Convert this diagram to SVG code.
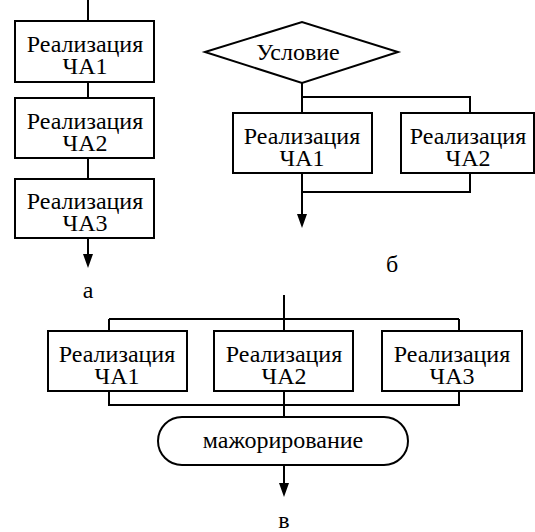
<svg xmlns="http://www.w3.org/2000/svg" width="535" height="532" viewBox="0 0 535 532">
<defs>
<style>
.b{fill:#fff;stroke:#000;stroke-width:2}
.c{fill:none;stroke:#000;stroke-width:2}
.h{fill:#000;stroke:none}
.t{font-family:'Liberation Serif','Times New Roman',serif;font-size:24px;fill:#000;text-anchor:middle}
</style>
</defs>
<rect width="535" height="532" fill="#fff"/>
<g id="connectors">
<path class="c" d="M88,0 V21 M88,82 V98 M88,158 V179 M88,238 V254"/>
<path class="c" d="M302,83 V97 H470 V113 M302,97 V113 M302,173 V192 H470 V173 M302,192 V214"/>
<path class="c" d="M284,295 V319 M109,319 H459 M109,319 V331 M284,319 V331 M459,319 V331 M109,391 V405 H459 V391 M284,391 V417 M284,465 V483"/>
<path class="h" d="M83,254 L93,254 L88,268 Z M297,214 L307,214 L302,228 Z M279,483 L289,483 L284,497 Z"/>
</g>
<g class="t">
<g id="a1"><rect class="b" x="15" y="21" width="139" height="61"/><text x="85" y="52">Реализация</text><text x="85" y="74">ЧА1</text></g>
<g id="a2"><rect class="b" x="15" y="98" width="139" height="60"/><text x="85" y="129">Реализация</text><text x="85" y="151">ЧА2</text></g>
<g id="a3"><rect class="b" x="15" y="179" width="139" height="59"/><text x="85" y="209">Реализация</text><text x="85" y="231">ЧА3</text></g>
<g id="cond"><polygon class="b" points="205,52 302,22 398,52 302,83"/><text x="298" y="60">Условие</text></g>
<g id="b1"><rect class="b" x="233" y="113" width="139" height="60"/><text x="302" y="144">Реализация</text><text x="302" y="166">ЧА1</text></g>
<g id="b2"><rect class="b" x="401" y="113" width="133" height="60"/><text x="468" y="144">Реализация</text><text x="468" y="166">ЧА2</text></g>
<g id="c1"><rect class="b" x="48" y="331" width="139" height="60"/><text x="117" y="362">Реализация</text><text x="117" y="384">ЧА1</text></g>
<g id="c2"><rect class="b" x="214" y="331" width="139" height="60"/><text x="284" y="362">Реализация</text><text x="284" y="384">ЧА2</text></g>
<g id="c3"><rect class="b" x="382" y="331" width="140" height="60"/><text x="452" y="362">Реализация</text><text x="452" y="384">ЧА3</text></g>
<g id="maj"><rect class="b" x="158" y="417" width="250" height="48" rx="24" ry="24"/><text x="283" y="448">мажорирование</text></g>
<text x="88" y="298">а</text>
<text x="392" y="272">б</text>
<text x="284" y="528">в</text>
</g>
</svg>
